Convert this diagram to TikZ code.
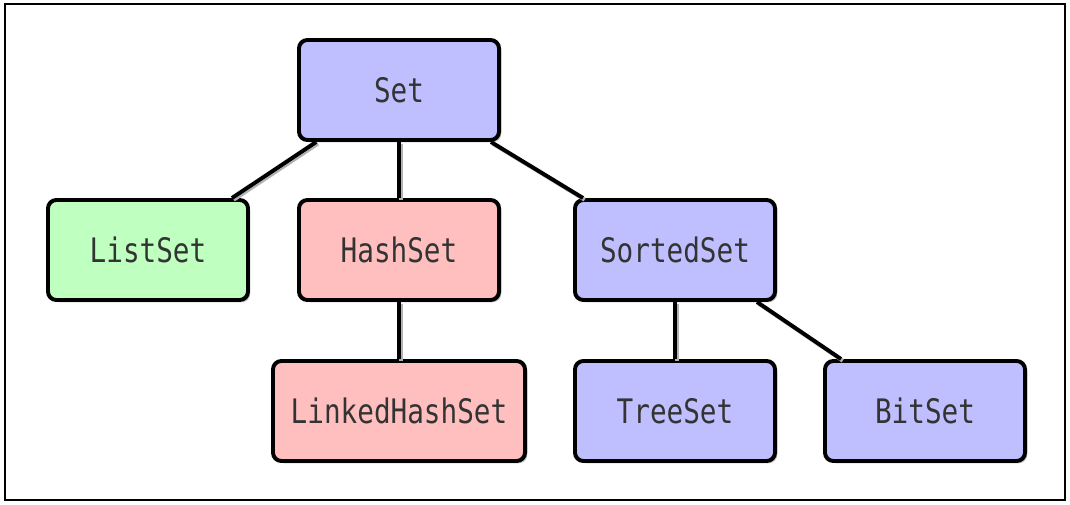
\documentclass[tikz,border=0pt]{standalone}
\usepackage{fontspec}
\usetikzlibrary{shadows}
\newfontfamily\boxfont[FakeStretch=0.82]{DejaVu Sans Mono}
\definecolor{setblue}{HTML}{BFBFFF}
\definecolor{setgreen}{HTML}{BFFFBF}
\definecolor{setred}{HTML}{FFBFBF}
\tikzset{
  box/.style={draw=black, line width=2.8pt, rounded corners=6pt, minimum height=2.5cm, minimum width=5cm,
    text=black!80, font=\boxfont\fontsize{24}{28}\selectfont,
    drop shadow={shadow xshift=1.6pt, shadow yshift=-1.6pt, opacity=0.45}},
  link/.style={line width=2.8pt, preaction={draw=black!30, line width=2.8pt, transform canvas={shift={(1.2pt,-1.2pt)}}}}
}
\begin{document}
\begin{tikzpicture}[x=0.025cm,y=0.025cm]
\useasboundingbox (0,0) rectangle (1070,505);
\draw [line width=1.8pt] (5,5) rectangle (1065,501);
\foreach \name/\x/\y/\col/\w in { Set/399/415/setblue/5cm , ListSet/148/255/setgreen/5cm , HashSet/399/255/setred/5cm , SortedSet/675/255/setblue/5cm , LinkedHashSet/399/94/setred/6.3cm , TreeSet/675/94/setblue/5cm , BitSet/925/94/setblue/5cm } { \node [box, fill=\col, minimum width=\w] (\name) at (\x,\y) {\name}; };
\draw [link] ([xshift=0.48cm]Set.south west) -- ([xshift=-0.45cm]ListSet.north east);
\draw [link] (Set.south) -- (HashSet.north); \draw [link] (HashSet.south) -- (LinkedHashSet.north);
\draw [link] ([xshift=-0.25cm]Set.south east) -- ([xshift=0.25cm]SortedSet.north west);
\draw [link] (SortedSet.south) -- (TreeSet.north);
\draw [link] ([xshift=-0.5cm]SortedSet.south east) -- ([xshift=0.45cm]BitSet.north west);
\end{tikzpicture}
\end{document}
